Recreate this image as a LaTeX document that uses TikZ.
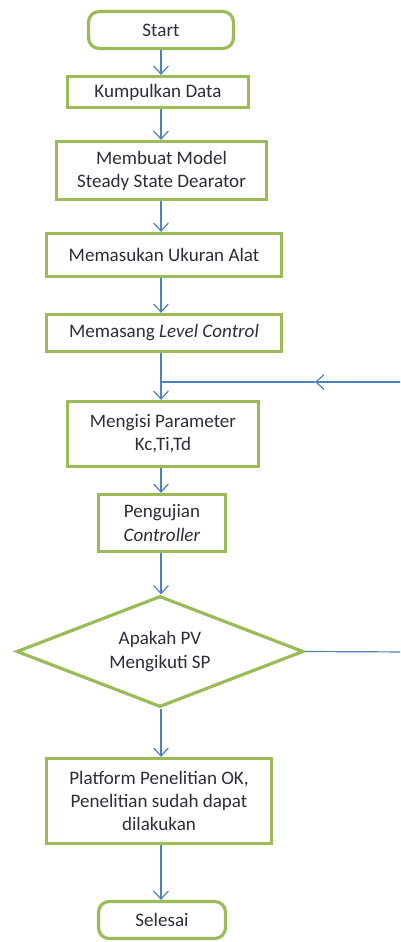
\documentclass[tikz,border=0pt]{standalone}
\usepackage{fontspec}
\setmainfont{Carlito}
\usetikzlibrary{shapes.geometric,arrows.meta}
\definecolor{boxgreen}{HTML}{9BBB59}
\definecolor{arrblue}{HTML}{4F81BD}
\definecolor{txt}{HTML}{2E2E3A}
\tikzset{
  box/.style={draw=boxgreen, line width=2.4pt, fill=white, text=txt, align=center, inner sep=0pt,
    font=\fontsize{14.3}{17.3}\selectfont},
  rbox/.style={box, rounded corners=8pt},
  decbox/.style={box, diamond, aspect=2.57},
  conn/.style={draw=arrblue, line width=0.9pt},
  arr/.style={conn, -{Straight Barb[length=6pt,width=11pt,line width=0.9pt]}},
  sz/.style 2 args={minimum width=#1*0.75pt, minimum height=#2*0.75pt},
}
\begin{document}
\begin{tikzpicture}[x=0.75pt,y=-0.75pt]
\useasboundingbox (0,0) rectangle (400,942);
\clip (0,0) rectangle (400,942);
\coordinate (ax) at (161,0);
\node[rbox, sz={145}{37}] (start) at (161,30) {Start};
\node[box, sz={181}{31}] (kd) at (158,92) {Kumpulkan Data};
\node[box, sz={210}{58}] (model) at (161.5,170.5) {Membuat Model\\Steady State Dearator};
\node[box, sz={235}{43}] (ukur) at (164,255) {Memasukan Ukuran Alat};
\node[box, sz={235}{37}] (level) at (164,333) {Memasang \textit{Level Control}};
\node[box, sz={191}{65}] (param) at (163,434) {Mengisi Parameter\\Kc,Ti,Td};
\node[box, sz={127}{57}] (uji) at (162,523) {Pengujian\\\textit{Controller}};
\node[decbox, sz={287}{111}] (dec) at (160,651.5) {Apakah PV\\Mengikuti SP};
\node[box, sz={225}{85}] (plat) at (159,801) {Platform Penelitian OK,\\Penelitian sudah dapat\\dilakukan};
\node[rbox, sz={127}{37}] (end) at (162,920) {Selesai};
\coordinate (junc) at (161,382);
\coordinate (loopa) at (412,652);
\coordinate (loopb) at (412,382);
\coordinate (loopm) at (315,382);
\draw[arr] (start.south -| ax) -- (kd.north -| ax);
\draw[arr] (kd.south -| ax) -- (model.north -| ax);
\draw[arr] (model.south -| ax) -- (ukur.north -| ax);
\draw[arr] (ukur.south -| ax) -- (level.north -| ax);
\draw[arr] (level.south -| ax) -- (param.north -| ax);
\draw[arr] (param.south -| ax) -- (uji.north -| ax);
\draw[arr] (uji.south -| ax) -- (dec.north -| ax);
\draw[arr] (dec.south -| ax) -- (plat.north -| ax);
\draw[arr] (plat.south -| ax) -- (end.north -| ax);
\draw[conn] (dec.east) -- (loopa) -- (loopb);
\draw[arr] (loopb) -- (loopm);
\draw[conn] (loopm) -- (junc);
\end{tikzpicture}
\end{document}
